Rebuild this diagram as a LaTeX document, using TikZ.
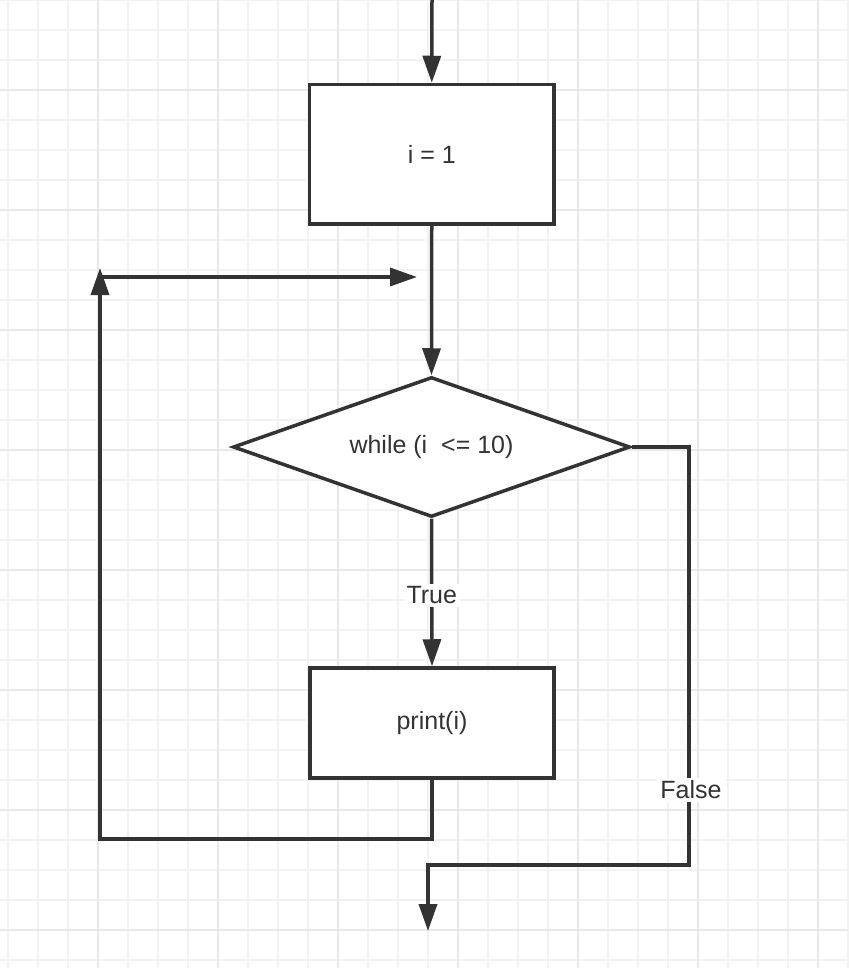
\documentclass[tikz,border=0pt]{standalone}
\usepackage{fontspec}
\setmainfont{Liberation Sans}
\usetikzlibrary{arrows.meta,shapes.geometric}
\definecolor{ink}{HTML}{333333}
\definecolor{gridminor}{HTML}{F2F2F2}
\definecolor{gridmajor}{HTML}{E8E8E8}
\tikzset{
  boxnode/.style={draw=ink, line width=3.5pt, fill=white, inner sep=0pt, text=ink, font=\fontsize{25}{30}\selectfont},
  decnode/.style={diamond, draw=ink, line width=3.5pt, fill=white, inner sep=0pt, aspect=2.84, minimum width=397pt, minimum height=140pt, text=ink, font=\fontsize{25}{30}\selectfont},
  conn/.style={draw=ink, line width=3.5pt},
  arr/.style={conn, -{Triangle[length=27pt,width=18pt]}},
  lbl/.style={fill=white, text=ink, inner sep=3pt, font=\fontsize{25}{30}\selectfont},
}
\begin{document}
\begin{tikzpicture}[x=1pt,y=-1pt]
\useasboundingbox (0,0) rectangle (848,968);
\fill[white] (0,0) rectangle (848,968);
% grid
\foreach \i in {0,...,28} {\draw[gridminor, line width=1.5pt] (8+30*\i,0) -- (8+30*\i,968);}
\foreach \i in {0,...,32} {\draw[gridminor, line width=1.5pt] (0,30*\i) -- (848,30*\i);}
\foreach \i in {0,...,6} {\draw[gridmajor, line width=1.5pt] (98+120*\i,0) -- (98+120*\i,968);}
\foreach \i in {0,...,7} {\draw[gridmajor, line width=1.5pt] (0,90+120*\i) -- (848,90+120*\i);}
% nodes
\node[boxnode, minimum width=244.5pt, minimum height=139.5pt] (b1) at (431.75,154.25) {i = 1};
\node[decnode] (d) at (431.5,447) {while (i~~<= 10)};
\node[boxnode, minimum width=244pt, minimum height=110pt] (b2) at (432,723) {print(i)};
\coordinate (top) at (432,0);
\coordinate (lb) at (432,839);
\coordinate (ll) at (100,839);
\coordinate (lt) at (100,268);
\coordinate (lh) at (100,277);
\coordinate (rh) at (417,277);
\coordinate (fr) at (689,447);
\coordinate (fb) at (689,865);
\coordinate (fl) at (428,865);
\coordinate (fe) at (428,931);
% connectors
\draw[arr] (top) -- (b1.north);
\draw[arr] (b1.south) -- (d.north);
\draw[arr] (d.south) -- node[lbl, pos=0.52] {True} (b2.north);
\draw[arr] (b2.south) -- (lb) -- (ll) -- (lt);
\draw[arr] (lh) -- (rh);
\draw[arr] (d.east) -- (fr) -- (fb) -- (fl) -- (fe);
\node[lbl] (fl2) at (691,790) {False};
\end{tikzpicture}
\end{document}
